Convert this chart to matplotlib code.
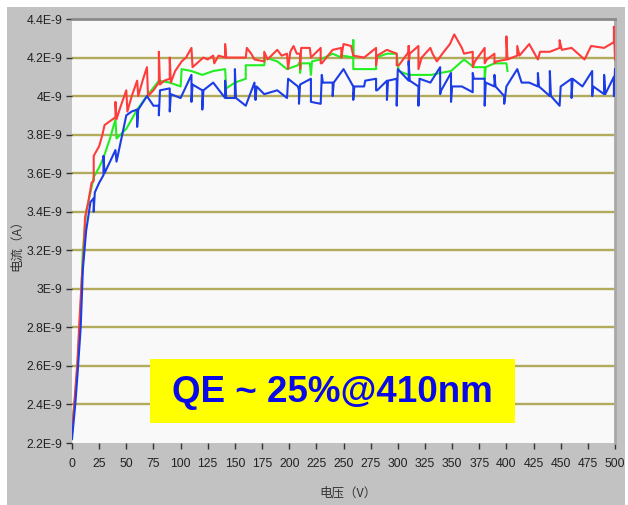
import matplotlib
matplotlib.use("Agg")
import matplotlib.pyplot as plt
from matplotlib.patches import Rectangle

# ---- data (current in units of 1E-9 A, voltage in V) ----
red_v = [0, 2, 5, 7, 9, 11, 12, 15, 18, 20, 20, 25, 28, 30, 35, 40, 40, 41, 45, 50, 51, 55, 60, 61, 65, 69, 70, 75,
         80, 80, 81, 85, 90, 90, 91, 95, 101, 105, 110, 111, 115, 121, 125, 130, 131, 135, 141, 141, 142, 150, 160,
         161, 165, 168, 177, 177, 180, 189, 193, 198, 199, 201, 204, 207, 210, 210, 211, 219, 220, 229, 229, 230,
         240, 248, 248, 250, 257, 259, 269, 280, 280, 281, 290, 299, 299, 301, 310, 310, 310, 311, 319, 319, 322,
         330, 332, 336, 341, 348, 352, 359, 361, 369, 369, 371, 380, 380, 382, 389, 389, 391, 400, 400, 401, 410,
         410, 412, 421, 429, 431, 440, 449, 449, 451, 460, 472, 478, 490, 499, 499, 500]
red_i = [2.25, 2.40, 2.62, 2.85, 3.05, 3.22, 3.37, 3.45, 3.55, 3.56, 3.69, 3.74, 3.80, 3.85, 3.87, 3.89, 3.97, 3.88,
         3.95, 4.03, 3.92, 4.00, 4.08, 4.00, 4.08, 4.15, 4.00, 4.03, 4.07, 4.23, 4.06, 4.08, 4.09, 4.20, 4.07, 4.13,
         4.18, 4.20, 4.25, 4.15, 4.17, 4.20, 4.19, 4.21, 4.17, 4.21, 4.20, 4.27, 4.20, 4.20, 4.20, 4.25, 4.22, 4.19,
         4.18, 4.23, 4.19, 4.24, 4.21, 4.22, 4.14, 4.23, 4.26, 4.22, 4.22, 4.14, 4.25, 4.25, 4.20, 4.25, 4.17, 4.17,
         4.24, 4.25, 4.20, 4.27, 4.26, 4.21, 4.20, 4.25, 4.16, 4.21, 4.24, 4.22, 4.16, 4.16, 4.23, 4.26, 4.16, 4.22,
         4.26, 4.14, 4.20, 4.25, 4.22, 4.18, 4.22, 4.27, 4.32, 4.25, 4.22, 4.23, 4.15, 4.18, 4.25, 4.17, 4.19, 4.22,
         4.17, 4.18, 4.19, 4.31, 4.19, 4.21, 4.26, 4.21, 4.27, 4.19, 4.23, 4.23, 4.25, 4.29, 4.24, 4.25, 4.19, 4.26,
         4.25, 4.28, 4.36, 4.19]

green_v = [0, 3, 5, 8, 10, 13, 17, 20, 25, 29, 35, 40, 41, 50, 60, 69, 80, 90, 100, 101, 110, 120, 130, 141, 142,
           150, 160, 160, 168, 177, 178, 189, 198, 208, 210, 210, 211, 219, 220, 221, 229, 240, 248, 249, 259, 259,
           259, 280, 280, 290, 299, 300, 301, 310, 322, 331, 339, 349, 361, 370, 380, 380, 381, 389, 400, 401]
green_i = [2.28, 2.45, 2.60, 2.90, 3.20, 3.40, 3.50, 3.58, 3.63, 3.68, 3.78, 3.88, 3.78, 3.83, 3.93, 4.00, 4.08,
           4.07, 4.05, 4.14, 4.13, 4.11, 4.13, 4.14, 4.04, 4.07, 4.09, 4.16, 4.16, 4.16, 4.20, 4.18, 4.14, 4.16,
           4.18, 4.12, 4.17, 4.17, 4.11, 4.18, 4.19, 4.22, 4.20, 4.21, 4.20, 4.29, 4.14, 4.14, 4.20, 4.22, 4.22,
           4.16, 4.13, 4.11, 4.11, 4.11, 4.12, 4.13, 4.19, 4.15, 4.15, 4.09, 4.15, 4.17, 4.17, 4.13]

blue_v = [0, 3, 5, 8, 10, 13, 17, 20, 20, 21, 25, 29, 29, 30, 35, 40, 41, 50, 55, 60, 60, 61, 69, 75, 80, 80, 81,
          90, 90, 91, 100, 110, 110, 111, 120, 120, 121, 130, 141, 141, 142, 150, 150, 151, 160, 168, 169, 170,
          177, 189, 198, 199, 208, 209, 209, 210, 220, 220, 229, 230, 231, 240, 240, 241, 250, 254, 259, 259, 260,
          269, 270, 280, 280, 281, 290, 290, 291, 299, 299, 300, 310, 310, 311, 319, 319, 320, 330, 339, 339, 340,
          349, 349, 350, 359, 369, 369, 370, 380, 380, 381, 389, 389, 390, 398, 398, 400, 410, 414, 421, 429, 429,
          430, 440, 440, 441, 449, 450, 460, 460, 461, 470, 479, 479, 480, 490, 490, 491, 499, 499, 500]
blue_i = [2.22, 2.40, 2.55, 2.80, 3.10, 3.30, 3.45, 3.47, 3.40, 3.50, 3.55, 3.59, 3.69, 3.60, 3.66, 3.72, 3.66,
          3.90, 3.92, 3.93, 3.84, 3.93, 4.00, 3.95, 3.95, 3.90, 4.03, 4.04, 3.92, 4.01, 3.99, 4.11, 3.97, 4.06,
          4.03, 3.93, 4.03, 4.07, 3.99, 4.08, 3.99, 3.99, 4.14, 3.99, 3.95, 4.07, 3.98, 4.05, 4.01, 4.03, 3.99,
          4.09, 4.05, 4.03, 3.96, 4.06, 4.09, 3.97, 3.96, 4.11, 4.07, 4.07, 4.00, 4.07, 4.14, 4.10, 4.05, 3.98,
          4.05, 4.05, 4.08, 4.09, 4.03, 4.03, 4.08, 3.98, 4.08, 4.09, 3.95, 4.14, 4.08, 4.18, 4.08, 4.05, 3.95,
          4.09, 4.07, 4.15, 4.01, 4.03, 4.12, 3.97, 4.05, 4.05, 4.02, 4.12, 4.09, 4.09, 3.95, 4.07, 4.05, 4.11,
          4.05, 4.00, 3.96, 4.05, 4.14, 4.07, 4.07, 4.05, 4.12, 4.05, 4.00, 4.13, 4.00, 3.95, 4.05, 4.09, 3.99,
          4.09, 4.05, 4.13, 4.00, 4.05, 4.01, 4.11, 4.01, 4.10, 4.00, 4.14]

x_ticks = list(range(0, 501, 25))
y_ticks = [2.2, 2.4, 2.6, 2.8, 3.0, 3.2, 3.4, 3.6, 3.8, 4.0, 4.2, 4.4]
y_tick_labels = ["2.2E-9", "2.4E-9", "2.6E-9", "2.8E-9", "3E-9", "3.2E-9", "3.4E-9",
                 "3.6E-9", "3.8E-9", "4E-9", "4.2E-9", "4.4E-9"]
x_label = "电压（V）"
y_label = "电流（A）"
note = "QE ~ 25%@410nm"

# ---- figure ----
W, H = 628, 505
fig = plt.figure(figsize=(W / 100, H / 100), dpi=100, facecolor="white")

# gray panel (behind everything)
fig.patches.append(Rectangle((7 / W, 0), (625 - 7) / W, (505 - 7) / H, transform=fig.transFigure,
                             facecolor="#c2c2c2", edgecolor="none", zorder=-10))

ax = fig.add_axes([72 / W, 1 - 443 / H, (615 - 72) / W, (443 - 19) / H])
ax.set_zorder(1)
ax.set_facecolor("#f9f9f9")
ax.set_xlim(0, 500)
ax.set_ylim(2.2, 4.4)

for y in y_ticks[1:-1]:
    ax.axhline(y, color="#b3ab5c", lw=1.7, zorder=1)

ax.plot(red_v, red_i, color="#ff3c3c", lw=1.5, zorder=3)
ax.plot(green_v, green_i, color="#22ee22", lw=1.5, zorder=2)
ax.plot(blue_v, blue_i, color="#1c3ce6", lw=1.5, zorder=4)

for s in ["left", "bottom"]:
    ax.spines[s].set_visible(False)
ax.spines["top"].set_color("#8a8a8a")
ax.spines["top"].set_linewidth(2)
ax.spines["right"].set_color("#a8a8a8")
ax.spines["right"].set_linewidth(2)

tick_font = dict(family=["Liberation Sans", "DejaVu Sans"], size=8.8, color="#222222")
ax.set_xticks(x_ticks)
ax.set_xticklabels([str(t) for t in x_ticks], **tick_font)
ax.set_yticks(y_ticks)
ax.set_yticklabels(y_tick_labels, **tick_font)
ax.tick_params(axis="both", direction="out", length=4, width=1, color="#333333")
ax.tick_params(axis="x", pad=7)
ax.tick_params(axis="y", pad=3)

cjk = ["Noto Sans CJK SC", "DejaVu Sans"]
fig.text(348 / W, 1 - 493 / H, x_label, ha="center", va="center", family=cjk, size=9, color="#333333")
fig.text(17 / W, 1 - 242 / H, y_label, ha="center", va="center", rotation=90, family=cjk, size=9,
         color="#333333")

# highlight box (above the axes)
box = Rectangle((150 / W, 1 - 423 / H), (515 - 150) / W, (423 - 359) / H,
                transform=fig.transFigure, facecolor="#ffff00", edgecolor="none", zorder=5)
fig.patches.append(box)
fig.text(332 / W, 1 - 392 / H, note, ha="center", va="center", family=["Liberation Sans", "DejaVu Sans"],
         weight="bold", size=26.5, color="#0a0ae8", zorder=6)

fig.savefig("out.png", dpi=100, facecolor="white")
